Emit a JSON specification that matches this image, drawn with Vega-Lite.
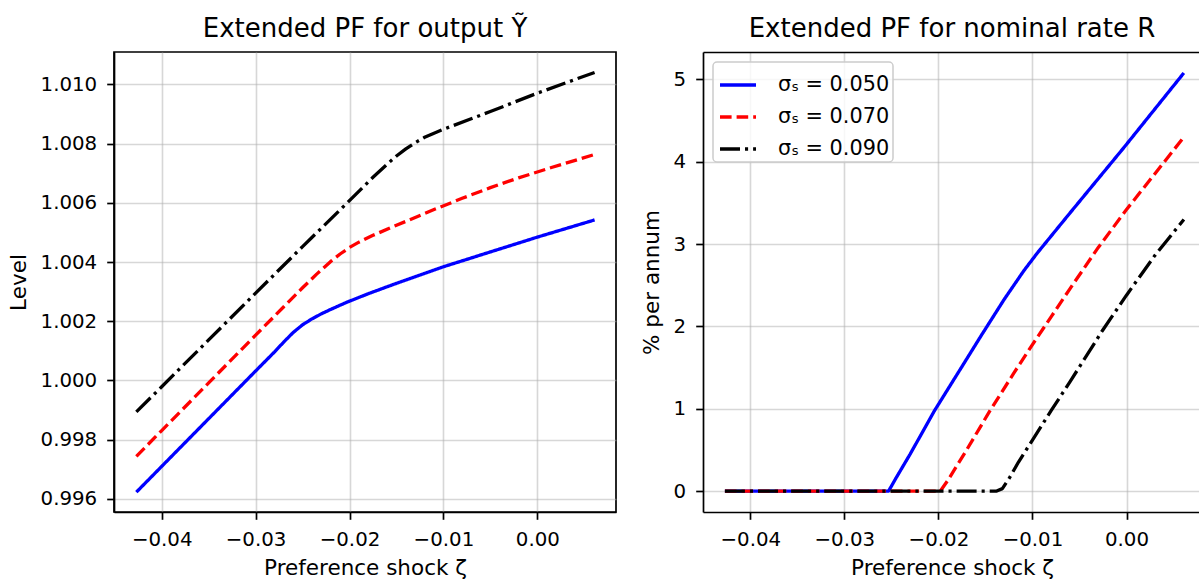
{
  "$schema": "https://vega.github.io/schema/vega-lite/v6.json",
  "padding": {"left": 7, "top": 15, "right": 0, "bottom": 0},
  "background": "white",
  "config": {
    "font": "DejaVu Sans",
    "view": {"stroke": "black", "strokeWidth": 1.7},
    "axis": {
      "labelFont": "DejaVu Sans", "labelFontSize": 19.8, "labelColor": "black",
      "titleFont": "DejaVu Sans", "titleFontSize": 21.5, "titleFontWeight": "normal", "titleColor": "black",
      "domainColor": "black", "domainWidth": 1.7,
      "tickColor": "black", "tickWidth": 1.7, "tickSize": 7.3,
      "labelPadding": 10, "titlePadding": 10,
      "gridColor": "#b0b0b0", "gridOpacity": 0.5, "gridWidth": 1.6,
      "labelFlush": false, "labelOverlap": false
    },
    "axisX": {"titlePadding": 8},
    "title": {"font": "DejaVu Sans", "fontSize": 26, "fontWeight": "normal", "color": "black", "anchor": "middle", "baseline": "alphabetic", "offset": 10},
    "legend": {
      "orient": "top-left", "offset": 10, "title": null,
      "symbolType": "stroke", "symbolSize": 1296, "symbolStrokeWidth": 3.3, "symbolOffset": 2,
      "labelFont": "DejaVu Sans", "labelFontSize": 20.8, "labelColor": "black", "labelOffset": 20,
      "strokeColor": "#cccccc", "strokeWidth": 1.5, "fillColor": "rgba(255,255,255,0.8)", "cornerRadius": 4,
      "padding": 3, "rowPadding": 2
    }
  },
  "datasets": {
    "output": [
      {"s": "σₛ = 0.050", "x": -0.0427, "y": 0.99623},
      {"s": "σₛ = 0.050", "x": -0.04, "y": 0.99710},
      {"s": "σₛ = 0.050", "x": -0.035, "y": 0.99871},
      {"s": "σₛ = 0.050", "x": -0.03, "y": 1.00032},
      {"s": "σₛ = 0.050", "x": -0.028, "y": 1.00096},
      {"s": "σₛ = 0.050", "x": -0.027, "y": 1.00130},
      {"s": "σₛ = 0.050", "x": -0.026, "y": 1.00162},
      {"s": "σₛ = 0.050", "x": -0.025, "y": 1.00188},
      {"s": "σₛ = 0.050", "x": -0.024, "y": 1.00208},
      {"s": "σₛ = 0.050", "x": -0.023, "y": 1.00225},
      {"s": "σₛ = 0.050", "x": -0.022, "y": 1.00240},
      {"s": "σₛ = 0.050", "x": -0.0203, "y": 1.00264},
      {"s": "σₛ = 0.050", "x": -0.018, "y": 1.00293},
      {"s": "σₛ = 0.050", "x": -0.015, "y": 1.00328},
      {"s": "σₛ = 0.050", "x": -0.01, "y": 1.00384},
      {"s": "σₛ = 0.050", "x": -0.005, "y": 1.00434},
      {"s": "σₛ = 0.050", "x": 0.0, "y": 1.00484},
      {"s": "σₛ = 0.050", "x": 0.0061, "y": 1.00542},
      {"s": "σₛ = 0.070", "x": -0.0427, "y": 0.99744},
      {"s": "σₛ = 0.070", "x": -0.04, "y": 0.99831},
      {"s": "σₛ = 0.070", "x": -0.035, "y": 0.99992},
      {"s": "σₛ = 0.070", "x": -0.03, "y": 1.00153},
      {"s": "σₛ = 0.070", "x": -0.027, "y": 1.00249},
      {"s": "σₛ = 0.070", "x": -0.025, "y": 1.00313},
      {"s": "σₛ = 0.070", "x": -0.0235, "y": 1.00359},
      {"s": "σₛ = 0.070", "x": -0.022, "y": 1.00402},
      {"s": "σₛ = 0.070", "x": -0.021, "y": 1.00427},
      {"s": "σₛ = 0.070", "x": -0.02, "y": 1.00449},
      {"s": "σₛ = 0.070", "x": -0.019, "y": 1.00467},
      {"s": "σₛ = 0.070", "x": -0.0175, "y": 1.00490},
      {"s": "σₛ = 0.070", "x": -0.015, "y": 1.00524},
      {"s": "σₛ = 0.070", "x": -0.011, "y": 1.00577},
      {"s": "σₛ = 0.070", "x": -0.008, "y": 1.00615},
      {"s": "σₛ = 0.070", "x": -0.005, "y": 1.00651},
      {"s": "σₛ = 0.070", "x": -0.002, "y": 1.00684},
      {"s": "σₛ = 0.070", "x": 0.0015, "y": 1.00719},
      {"s": "σₛ = 0.070", "x": 0.0061, "y": 1.00763},
      {"s": "σₛ = 0.090", "x": -0.0427, "y": 0.99894},
      {"s": "σₛ = 0.090", "x": -0.04, "y": 0.99979},
      {"s": "σₛ = 0.090", "x": -0.035, "y": 1.00137},
      {"s": "σₛ = 0.090", "x": -0.03, "y": 1.00295},
      {"s": "σₛ = 0.090", "x": -0.025, "y": 1.00452},
      {"s": "σₛ = 0.090", "x": -0.0203, "y": 1.00598},
      {"s": "σₛ = 0.090", "x": -0.0175, "y": 1.00686},
      {"s": "σₛ = 0.090", "x": -0.016, "y": 1.00730},
      {"s": "σₛ = 0.090", "x": -0.015, "y": 1.00758},
      {"s": "σₛ = 0.090", "x": -0.014, "y": 1.00782},
      {"s": "σₛ = 0.090", "x": -0.013, "y": 1.00803},
      {"s": "σₛ = 0.090", "x": -0.012, "y": 1.00821},
      {"s": "σₛ = 0.090", "x": -0.011, "y": 1.00835},
      {"s": "σₛ = 0.090", "x": -0.01, "y": 1.00848},
      {"s": "σₛ = 0.090", "x": -0.005, "y": 1.00908},
      {"s": "σₛ = 0.090", "x": 0.0, "y": 1.00970},
      {"s": "σₛ = 0.090", "x": 0.0061, "y": 1.01040}
    ],
    "rate": [
      {"s": "σₛ = 0.050", "x": -0.0427, "y": 0},
      {"s": "σₛ = 0.050", "x": -0.035, "y": 0},
      {"s": "σₛ = 0.050", "x": -0.03, "y": 0},
      {"s": "σₛ = 0.050", "x": -0.0253, "y": 0},
      {"s": "σₛ = 0.050", "x": -0.0245, "y": 0.16},
      {"s": "σₛ = 0.050", "x": -0.023, "y": 0.45},
      {"s": "σₛ = 0.050", "x": -0.0204, "y": 0.98},
      {"s": "σₛ = 0.050", "x": -0.018, "y": 1.42},
      {"s": "σₛ = 0.050", "x": -0.0155, "y": 1.88},
      {"s": "σₛ = 0.050", "x": -0.013, "y": 2.33},
      {"s": "σₛ = 0.050", "x": -0.0109, "y": 2.68},
      {"s": "σₛ = 0.050", "x": -0.0095, "y": 2.89},
      {"s": "σₛ = 0.050", "x": -0.006, "y": 3.38},
      {"s": "σₛ = 0.050", "x": -0.0003, "y": 4.17},
      {"s": "σₛ = 0.050", "x": 0.0061, "y": 5.08},
      {"s": "σₛ = 0.070", "x": -0.0427, "y": 0},
      {"s": "σₛ = 0.070", "x": -0.035, "y": 0},
      {"s": "σₛ = 0.070", "x": -0.03, "y": 0},
      {"s": "σₛ = 0.070", "x": -0.025, "y": 0},
      {"s": "σₛ = 0.070", "x": -0.0198, "y": 0},
      {"s": "σₛ = 0.070", "x": -0.019, "y": 0.13},
      {"s": "σₛ = 0.070", "x": -0.017, "y": 0.5},
      {"s": "σₛ = 0.070", "x": -0.0145, "y": 0.98},
      {"s": "σₛ = 0.070", "x": -0.012, "y": 1.43},
      {"s": "σₛ = 0.070", "x": -0.01, "y": 1.78},
      {"s": "σₛ = 0.070", "x": -0.008, "y": 2.12},
      {"s": "σₛ = 0.070", "x": -0.006, "y": 2.46},
      {"s": "σₛ = 0.070", "x": -0.003, "y": 2.96},
      {"s": "σₛ = 0.070", "x": 0.0, "y": 3.42},
      {"s": "σₛ = 0.070", "x": 0.0061, "y": 4.30},
      {"s": "σₛ = 0.090", "x": -0.0427, "y": 0},
      {"s": "σₛ = 0.090", "x": -0.035, "y": 0},
      {"s": "σₛ = 0.090", "x": -0.03, "y": 0},
      {"s": "σₛ = 0.090", "x": -0.02, "y": 0},
      {"s": "σₛ = 0.090", "x": -0.0138, "y": 0},
      {"s": "σₛ = 0.090", "x": -0.0132, "y": 0.03},
      {"s": "σₛ = 0.090", "x": -0.0125, "y": 0.15},
      {"s": "σₛ = 0.090", "x": -0.0115, "y": 0.35},
      {"s": "σₛ = 0.090", "x": -0.01, "y": 0.62},
      {"s": "σₛ = 0.090", "x": -0.008, "y": 0.98},
      {"s": "σₛ = 0.090", "x": -0.006, "y": 1.33},
      {"s": "σₛ = 0.090", "x": -0.0025, "y": 1.96},
      {"s": "σₛ = 0.090", "x": 0.0, "y": 2.38},
      {"s": "σₛ = 0.090", "x": 0.003, "y": 2.86},
      {"s": "σₛ = 0.090", "x": 0.0061, "y": 3.30}
    ]
  },
  "spacing": 24,
  "resolve": {"scale": {"color": "independent", "strokeDash": "independent"}, "legend": {"color": "independent", "strokeDash": "independent"}},
  "hconcat": [
    {
      "width": 502, "height": 460,
      "title": "Extended PF for output Ỹ",
      "data": {"name": "output"},
      "mark": {"type": "line", "strokeWidth": 3.3, "strokeJoin": "round", "clip": true},
      "encoding": {
        "x": {"field": "x", "type": "quantitative", "scale": {"domain": [-0.04508, 0.00838], "nice": false, "zero": false},
              "axis": {"values": [-0.04, -0.03, -0.02, -0.01, 0], "format": ".2f", "title": "Preference shock ζ"}},
        "y": {"field": "y", "type": "quantitative", "scale": {"domain": [0.99556, 1.01109], "nice": false, "zero": false},
              "axis": {"values": [0.996, 0.998, 1.0, 1.002, 1.004, 1.006, 1.008, 1.01], "format": ".3f", "title": "Level"}},
        "color": {"field": "s", "type": "nominal", "scale": {"domain": ["σₛ = 0.050", "σₛ = 0.070", "σₛ = 0.090"], "range": ["#0000ff", "#ff0000", "#000000"]}, "legend": null},
        "strokeDash": {"field": "s", "type": "nominal", "scale": {"domain": ["σₛ = 0.050", "σₛ = 0.070", "σₛ = 0.090"], "range": [[1, 0], [11.6, 5], [20, 5, 3.1, 5]]}, "legend": null}
      }
    },
    {
      "width": 498, "height": 460,
      "title": "Extended PF for nominal rate R",
      "data": {"name": "rate"},
      "view": {"stroke": null},
      "resolve": {"axis": {"x": "independent"}},
      "layer": [
        {
          "mark": {"type": "line", "strokeWidth": 3.3, "strokeJoin": "round", "clip": true},
          "encoding": {
            "x": {"field": "x", "type": "quantitative", "scale": {"domain": [-0.04503, 0.00792], "nice": false, "zero": false},
                  "axis": {"values": [-0.04, -0.03, -0.02, -0.01, 0], "format": ".2f", "title": "Preference shock ζ"}},
            "y": {"field": "y", "type": "quantitative", "scale": {"domain": [-0.254, 5.334], "nice": false, "zero": false},
                  "axis": {"values": [0, 1, 2, 3, 4, 5], "format": "d", "title": "% per annum"}},
            "color": {"field": "s", "type": "nominal", "scale": {"domain": ["σₛ = 0.050", "σₛ = 0.070", "σₛ = 0.090"], "range": ["#0000ff", "#ff0000", "#000000"]}},
            "strokeDash": {"field": "s", "type": "nominal", "scale": {"domain": ["σₛ = 0.050", "σₛ = 0.070", "σₛ = 0.090"], "range": [[1, 0], [11.6, 5], [20, 5, 3.1, 5]]}}
          }
        },
        {
          "mark": {"type": "rule", "opacity": 0},
          "encoding": {
            "x": {"field": "x", "type": "quantitative", "scale": {"domain": [-0.04503, 0.00792], "nice": false, "zero": false},
                  "axis": {"orient": "top", "labels": false, "ticks": false, "grid": false, "title": null, "domain": true}}
          }
        }
      ]
    }
  ]
}
